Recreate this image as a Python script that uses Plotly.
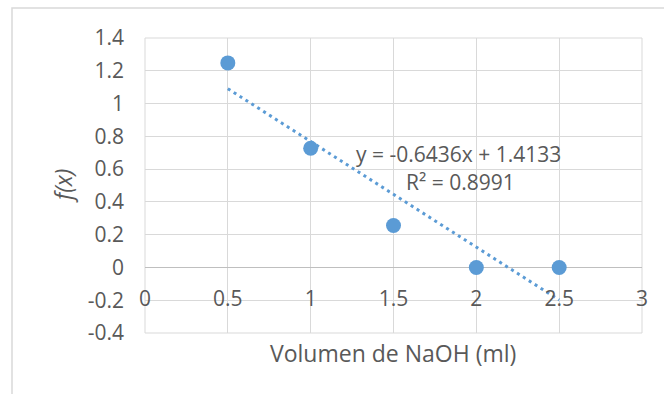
import numpy as np
import plotly.graph_objects as go

# Data
x_vals = [0.5, 1.0, 1.5, 2.0, 2.5]
y_vals = [1.248, 0.727, 0.256, 0.0, 0.0]
x_ticks = [0, 0.5, 1, 1.5, 2, 2.5, 3]
x_tick_text = ["0", "0.5", "1", "1.5", "2", "2.5", "3"]
y_ticks = [-0.4, -0.2, 0, 0.2, 0.4, 0.6, 0.8, 1, 1.2, 1.4]
y_tick_text = ["-0.4", "-0.2", "0", "0.2", "0.4", "0.6", "0.8", "1", "1.2", "1.4"]
eq_text = "y = -0.6436x + 1.4133"
r2_text = "R² = 0.8991"
x_title = "Volumen de NaOH (ml)"
y_title = "<i>f(x)</i>"

# Linear trendline
slope, intercept = np.polyfit(x_vals, y_vals, 1)
tx = np.array([min(x_vals), max(x_vals)])
ty = slope * tx + intercept

BLUE = "#5B9BD5"
GRID = "#D9D9D9"
TXT = "#595959"
FONT = "Open Sans"

W, H = 664, 394
ML, MR, MT, MB = 145, 22, 38, 61
pw, ph = W - ML - MR, H - MT - MB

def px_x(p):
    return (p - ML) / pw

def px_y(p):
    return 1 - (p - MT) / ph

fig = go.Figure()
fig.add_trace(go.Scatter(x=tx, y=ty, mode="lines",
                         line=dict(color=BLUE, width=3, dash="3px,4px"),
                         hoverinfo="skip", showlegend=False))
fig.add_trace(go.Scatter(x=x_vals, y=y_vals, mode="markers",
                         marker=dict(color=BLUE, size=15),
                         showlegend=False))

ymin, ymax = -0.4, 1.4
zero_pos = (0 - ymin) / (ymax - ymin)

fig.update_layout(
    width=W, height=H,
    margin=dict(l=ML, r=MR, t=MT, b=MB),
    paper_bgcolor="white", plot_bgcolor="white",
    font=dict(family=FONT, color=TXT, size=21),
    xaxis=dict(range=[0, 3], tickvals=x_ticks, ticktext=x_tick_text,
               showgrid=True, gridcolor=GRID, gridwidth=1,
               zeroline=False, showline=False, ticks="",
               anchor="free", position=zero_pos,
               ticklabelstandoff=17,
               tickfont=dict(size=21, color=TXT)),
    yaxis=dict(range=[ymin, ymax], tickvals=y_ticks, ticktext=y_tick_text,
               showgrid=True, gridcolor=GRID, gridwidth=1,
               zeroline=True, zerolinecolor="#BFBFBF", zerolinewidth=1,
               showline=False, ticks="", ticklabelstandoff=20,
               tickfont=dict(size=21, color=TXT)),
    shapes=[
        dict(type="rect", xref="paper", yref="paper",
             x0=px_x(12), x1=px_x(W + 10), y0=px_y(H + 10), y1=px_y(8),
             line=dict(color=GRID, width=1.5), fillcolor="rgba(0,0,0,0)",
             layer="below"),
        dict(type="rect", xref="paper", yref="paper", x0=0, x1=1, y0=0, y1=1,
             line=dict(color=GRID, width=1), fillcolor="rgba(0,0,0,0)",
             layer="below"),
    ],
    annotations=[
        dict(text=eq_text, x=px_x(458), y=px_y(154), xref="paper", yref="paper",
             showarrow=False, xanchor="center", yanchor="middle",
             font=dict(size=21, color=TXT, family=FONT)),
        dict(text=r2_text, x=px_x(460), y=px_y(182), xref="paper", yref="paper",
             showarrow=False, xanchor="center", yanchor="middle",
             font=dict(size=21, color=TXT, family=FONT)),
        dict(text=x_title, x=px_x(393), y=px_y(353), xref="paper", yref="paper",
             showarrow=False, xanchor="center", yanchor="middle",
             font=dict(size=23, color=TXT, family=FONT)),
        dict(text=y_title, x=px_x(63), y=px_y(186), xref="paper", yref="paper",
             showarrow=False, xanchor="center", yanchor="middle", textangle=-90,
             font=dict(size=23, color=TXT, family=FONT)),
    ],
)

fig.write_html("out.html")
